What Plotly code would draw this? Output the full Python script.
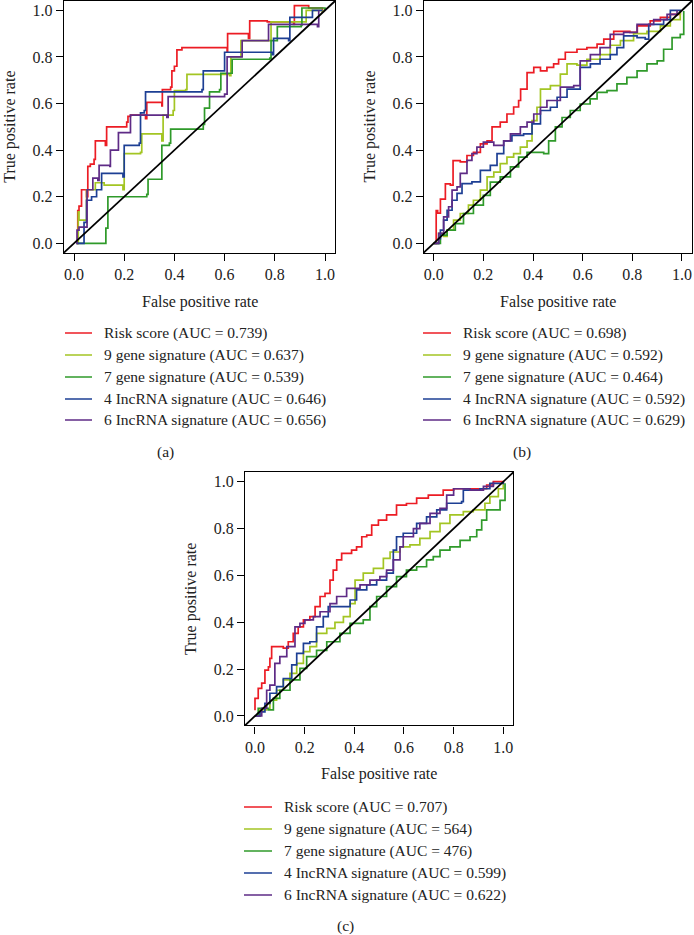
import plotly.graph_objects as go

W, H = 694, 935
FONT = "Liberation Serif"

series_names = ["Risk score", "9 gene signature", "7 gene signature",
                "4 IncRNA signature", "6 IncRNA signature"]
colors = ["#ec1c24", "#a3c523", "#2f9a2a", "#1d3f94", "#5e2b86"]

auc_a = ["0.739", "0.637", "0.539", "0.646", "0.656"]
auc_b = ["0.698", "0.592", "0.464", "0.592", "0.629"]
auc_c = ["0.707", "564", "476", "0.599", "0.622"]

tick_vals = [0.0, 0.2, 0.4, 0.6, 0.8, 1.0]
tick_text = ["0.0", "0.2", "0.4", "0.6", "0.8", "1.0"]

# ---------------- Panel (a) ----------------
a_risk_x = [0.01, 0.015, 0.02, 0.03, 0.05, 0.055, 0.065, 0.08, 0.085, 0.125, 0.13, 0.21, 0.215, 0.225, 0.285, 0.29, 0.35, 0.352, 0.385, 0.39, 0.40, 0.41, 0.43, 0.61, 0.612, 0.695, 0.70, 0.77, 0.875, 0.878, 0.935, 0.99]
a_risk_y = [0.0, 0.14, 0.16, 0.23, 0.20, 0.33, 0.34, 0.36, 0.44, 0.42, 0.50, 0.52, 0.545, 0.55, 0.535, 0.605, 0.59, 0.66, 0.67, 0.74, 0.76, 0.83, 0.84, 0.82, 0.90, 0.88, 0.955, 0.95, 0.94, 1.02, 1.01, 0.99]
a_g9_x = [0.015, 0.017, 0.02, 0.048, 0.05, 0.085, 0.12, 0.195, 0.20, 0.265, 0.27, 0.35, 0.355, 0.395, 0.40, 0.445, 0.45, 0.62, 0.625, 0.66, 0.665, 0.78, 0.785, 0.92, 0.925, 0.99]
a_g9_y = [0.0, 0.135, 0.10, 0.10, 0.23, 0.26, 0.25, 0.23, 0.385, 0.39, 0.47, 0.44, 0.55, 0.57, 0.655, 0.66, 0.725, 0.72, 0.80, 0.80, 0.87, 0.87, 0.95, 0.95, 1.0, 0.99]
a_g7_x = [0.01, 0.125, 0.127, 0.135, 0.29, 0.295, 0.345, 0.35, 0.38, 0.385, 0.515, 0.52, 0.54, 0.58, 0.585, 0.63, 0.78, 0.785, 0.81, 0.905, 0.908, 1.0]
a_g7_y = [0.0, 0.0, 0.065, 0.20, 0.21, 0.275, 0.275, 0.42, 0.43, 0.49, 0.51, 0.58, 0.65, 0.66, 0.73, 0.79, 0.795, 0.87, 0.93, 0.935, 1.01, 1.0]
a_l4_x = [0.01, 0.037, 0.04, 0.05, 0.07, 0.09, 0.11, 0.195, 0.20, 0.26, 0.265, 0.28, 0.285, 0.51, 0.515, 0.59, 0.60, 0.79, 0.795, 0.855, 0.86, 0.945, 0.95, 0.99]
a_l4_y = [0.0, 0.0, 0.09, 0.185, 0.20, 0.23, 0.30, 0.285, 0.42, 0.43, 0.56, 0.57, 0.65, 0.66, 0.74, 0.74, 0.82, 0.81, 0.88, 0.87, 0.97, 0.97, 1.0, 1.0]
a_l6_x = [0.01, 0.012, 0.02, 0.05, 0.052, 0.075, 0.095, 0.10, 0.143, 0.145, 0.17, 0.177, 0.22, 0.225, 0.37, 0.375, 0.6, 0.61, 0.665, 0.67, 0.77, 0.775, 0.97, 0.975]
a_l6_y = [0.0, 0.057, 0.07, 0.07, 0.23, 0.28, 0.27, 0.335, 0.33, 0.40, 0.40, 0.475, 0.475, 0.55, 0.54, 0.63, 0.64, 0.80, 0.80, 0.87, 0.87, 0.94, 0.93, 1.0]

# ---------------- Panel (b) ----------------
b_risk_x = [0.0, 0.01, 0.016, 0.027, 0.047, 0.067, 0.078, 0.107, 0.134, 0.16, 0.188, 0.215, 0.235, 0.268, 0.295, 0.322, 0.342, 0.35, 0.376, 0.403, 0.43, 0.456, 0.483, 0.503, 0.53, 0.577, 0.617, 0.658, 0.685, 0.725, 0.79, 0.82, 0.872, 0.913, 0.953, 0.993]
b_risk_y = [0.0, 0.14, 0.13, 0.19, 0.255, 0.25, 0.355, 0.35, 0.377, 0.39, 0.427, 0.44, 0.50, 0.52, 0.555, 0.585, 0.613, 0.662, 0.733, 0.755, 0.74, 0.755, 0.77, 0.79, 0.82, 0.833, 0.84, 0.855, 0.876, 0.91, 0.905, 0.933, 0.955, 0.97, 0.983, 0.997]
b_g9_x = [0.0, 0.02, 0.04, 0.054, 0.08, 0.107, 0.14, 0.16, 0.188, 0.215, 0.242, 0.268, 0.295, 0.322, 0.349, 0.376, 0.396, 0.416, 0.43, 0.47, 0.51, 0.537, 0.577, 0.617, 0.67, 0.711, 0.752, 0.805, 0.859, 0.913, 0.953, 0.993]
b_g9_y = [0.0, 0.043, 0.03, 0.057, 0.10, 0.128, 0.164, 0.185, 0.228, 0.285, 0.306, 0.342, 0.37, 0.385, 0.413, 0.44, 0.527, 0.584, 0.662, 0.677, 0.726, 0.77, 0.765, 0.79, 0.81, 0.85, 0.87, 0.90, 0.91, 0.933, 0.96, 0.997]
b_g7_x = [0.0, 0.027, 0.054, 0.087, 0.12, 0.16, 0.2, 0.228, 0.268, 0.309, 0.342, 0.376, 0.416, 0.443, 0.463, 0.49, 0.517, 0.55, 0.59, 0.63, 0.658, 0.698, 0.738, 0.778, 0.819, 0.859, 0.9, 0.926, 0.96, 0.993, 1.007]
b_g7_y = [0.0, 0.035, 0.057, 0.085, 0.128, 0.164, 0.206, 0.263, 0.285, 0.328, 0.37, 0.39, 0.39, 0.385, 0.44, 0.50, 0.54, 0.57, 0.598, 0.62, 0.648, 0.655, 0.684, 0.712, 0.74, 0.77, 0.783, 0.833, 0.883, 0.897, 0.997]
b_l4_x = [0.0, 0.02, 0.027, 0.04, 0.054, 0.074, 0.094, 0.114, 0.154, 0.188, 0.228, 0.255, 0.282, 0.315, 0.362, 0.396, 0.43, 0.47, 0.497, 0.537, 0.577, 0.59, 0.631, 0.67, 0.711, 0.738, 0.765, 0.819, 0.852, 0.866, 0.926, 0.953, 0.993]
b_l4_y = [0.0, 0.02, 0.057, 0.10, 0.142, 0.185, 0.214, 0.256, 0.264, 0.313, 0.335, 0.385, 0.44, 0.463, 0.47, 0.513, 0.57, 0.584, 0.627, 0.662, 0.662, 0.755, 0.77, 0.79, 0.81, 0.84, 0.89, 0.883, 0.876, 0.94, 0.96, 1.0, 0.997]
b_l6_x = [0.0, 0.02, 0.04, 0.06, 0.074, 0.094, 0.107, 0.134, 0.154, 0.174, 0.2, 0.242, 0.282, 0.309, 0.349, 0.376, 0.403, 0.43, 0.456, 0.51, 0.564, 0.59, 0.631, 0.67, 0.711, 0.765, 0.819, 0.886, 0.94, 0.98]
b_l6_y = [0.0, 0.043, 0.114, 0.157, 0.228, 0.242, 0.30, 0.356, 0.385, 0.413, 0.434, 0.42, 0.44, 0.47, 0.50, 0.52, 0.555, 0.584, 0.613, 0.67, 0.677, 0.783, 0.81, 0.84, 0.897, 0.905, 0.94, 0.96, 0.983, 1.0]

# ---------------- Panel (c) ----------------
c_risk_x = [0.0, 0.0, 0.013, 0.027, 0.04, 0.054, 0.06, 0.067, 0.114, 0.134, 0.154, 0.174, 0.195, 0.221, 0.242, 0.262, 0.282, 0.302, 0.315, 0.329, 0.349, 0.389, 0.409, 0.43, 0.45, 0.47, 0.497, 0.53, 0.57, 0.61, 0.651, 0.698, 0.758, 0.80, 0.866, 0.933, 0.96, 1.0]
c_risk_y = [0.025, 0.075, 0.118, 0.14, 0.196, 0.21, 0.246, 0.296, 0.29, 0.317, 0.353, 0.38, 0.41, 0.424, 0.467, 0.51, 0.523, 0.58, 0.623, 0.666, 0.694, 0.708, 0.722, 0.765, 0.772, 0.815, 0.836, 0.858, 0.90, 0.907, 0.93, 0.943, 0.964, 0.97, 0.97, 0.986, 1.0, 0.993]
c_g9_x = [0.0, 0.02, 0.047, 0.06, 0.087, 0.114, 0.141, 0.168, 0.195, 0.221, 0.248, 0.289, 0.322, 0.356, 0.383, 0.403, 0.436, 0.477, 0.517, 0.544, 0.584, 0.624, 0.664, 0.705, 0.745, 0.785, 0.839, 0.879, 0.926, 0.946, 0.98, 1.0]
c_g9_y = [0.0, 0.026, 0.03, 0.068, 0.11, 0.154, 0.182, 0.225, 0.275, 0.296, 0.353, 0.374, 0.40, 0.424, 0.48, 0.58, 0.61, 0.63, 0.673, 0.70, 0.722, 0.73, 0.758, 0.787, 0.822, 0.858, 0.872, 0.88, 0.908, 0.936, 0.97, 0.993]
c_g7_x = [0.0, 0.013, 0.054, 0.074, 0.10, 0.141, 0.181, 0.208, 0.248, 0.289, 0.342, 0.383, 0.436, 0.463, 0.49, 0.53, 0.57, 0.61, 0.651, 0.691, 0.718, 0.745, 0.785, 0.826, 0.866, 0.893, 0.913, 0.933, 0.966, 0.987, 1.007]
c_g7_y = [0.0, 0.033, 0.026, 0.075, 0.11, 0.154, 0.203, 0.253, 0.28, 0.317, 0.353, 0.395, 0.41, 0.467, 0.51, 0.552, 0.595, 0.623, 0.637, 0.666, 0.68, 0.708, 0.722, 0.75, 0.765, 0.794, 0.836, 0.88, 0.88, 0.92, 0.993]
c_l4_x = [0.0, 0.02, 0.04, 0.06, 0.087, 0.114, 0.148, 0.168, 0.195, 0.221, 0.248, 0.275, 0.295, 0.342, 0.383, 0.409, 0.45, 0.49, 0.53, 0.557, 0.57, 0.597, 0.651, 0.691, 0.732, 0.772, 0.832, 0.839, 0.906, 0.946, 1.0]
c_l4_y = [0.0, 0.018, 0.054, 0.097, 0.125, 0.16, 0.218, 0.267, 0.31, 0.317, 0.38, 0.424, 0.467, 0.467, 0.495, 0.538, 0.56, 0.58, 0.61, 0.708, 0.765, 0.78, 0.822, 0.85, 0.88, 0.908, 0.915, 0.964, 0.97, 0.993, 1.0]
c_l6_x = [0.0, 0.027, 0.047, 0.06, 0.08, 0.10, 0.128, 0.161, 0.181, 0.201, 0.235, 0.262, 0.302, 0.329, 0.369, 0.423, 0.463, 0.503, 0.53, 0.557, 0.584, 0.597, 0.638, 0.664, 0.705, 0.745, 0.772, 0.80, 0.866, 0.92, 0.96]
c_l6_y = [0.0, 0.033, 0.11, 0.132, 0.225, 0.253, 0.296, 0.38, 0.395, 0.41, 0.424, 0.445, 0.48, 0.51, 0.545, 0.56, 0.58, 0.595, 0.623, 0.666, 0.722, 0.765, 0.80, 0.822, 0.865, 0.886, 0.943, 0.97, 0.964, 0.98, 1.0]

panels = [
    dict(label="(a)", auc=auc_a,
         xs=[a_risk_x, a_g9_x, a_g7_x, a_l4_x, a_l6_x],
         ys=[a_risk_y, a_g9_y, a_g7_y, a_l4_y, a_l6_y],
         px0=74.0, px1=325.0, py1=9.3, py0=243.3,
         leg_line=(65, 92), leg_text=102, leg_rows=[333, 355, 377, 399, 420],
         lab=(165, 452)),
    dict(label="(b)", auc=auc_b,
         xs=[b_risk_x, b_g9_x, b_g7_x, b_l4_x, b_l6_x],
         ys=[b_risk_y, b_g9_y, b_g7_y, b_l4_y, b_l6_y],
         px0=433.7, px1=682.0, py1=9.3, py0=243.3,
         leg_line=(423, 451), leg_text=461, leg_rows=[333, 355, 377, 399, 420],
         lab=(522, 452)),
    dict(label="(c)", auc=auc_c,
         xs=[c_risk_x, c_g9_x, c_g7_x, c_l4_x, c_l6_x],
         ys=[c_risk_y, c_g9_y, c_g7_y, c_l4_y, c_l6_y],
         px0=255.0, px1=503.3, py1=481.7, py0=716.0,
         leg_line=(244, 272), leg_text=282, leg_rows=[807, 829, 851, 873, 895],
         lab=(345, 926)),
]

fig = go.Figure()
layout = dict(width=W, height=H, margin=dict(l=0, r=0, t=0, b=0),
              paper_bgcolor="white", plot_bgcolor="white",
              showlegend=False, font=dict(family=FONT, size=16, color="#222"))
annotations = []
shapes = []
RLO, RHI = -0.04, 1.04
FS_TICK, FS_TITLE, FS_LEG = 16, 16, 15.5


def clamp(v):
    return max(0.0, min(1.0, v))


for i, p in enumerate(panels):
    sfx = "" if i == 0 else str(i + 1)
    xs_px = p["px1"] - p["px0"]
    ys_px = p["py0"] - p["py1"]
    left = p["px0"] + RLO * xs_px
    right = min(p["px0"] + RHI * xs_px, W - 1.0)
    top = max(p["py1"] - (RHI - 1) * ys_px, 1.0)
    bottom = p["py0"] - RLO * ys_px
    axis_common = dict(range=[RLO, RHI], showgrid=False, zeroline=False,
                       showline=True, mirror=True, linecolor="black", linewidth=1.3,
                       ticks="outside", ticklen=7, tickwidth=1.3, tickcolor="black",
                       tickvals=tick_vals, ticktext=tick_text,
                       ticklabeloverflow="allow",
                       tickfont=dict(family=FONT, size=FS_TICK, color="#222"))
    layout["xaxis" + sfx] = dict(axis_common, domain=[clamp(left / W), clamp(right / W)],
                                 anchor="y" + sfx)
    layout["yaxis" + sfx] = dict(axis_common, domain=[clamp(1 - bottom / H), clamp(1 - top / H)],
                                 anchor="x" + sfx)
    for k in range(5):
        fig.add_trace(go.Scatter(x=p["xs"][k], y=p["ys"][k], mode="lines",
                                 line=dict(color=colors[k], width=1.7, shape="hv"),
                                 xaxis="x" + sfx, yaxis="y" + sfx,
                                 name=series_names[k]))
    # diagonal reference
    shapes.append(dict(type="line", xref="x%s domain" % sfx, yref="y%s domain" % sfx,
                       x0=0, y0=0, x1=1, y1=1, line=dict(color="black", width=1.8)))
    cx = (left + right) / 2
    cy = (top + bottom) / 2
    annotations.append(dict(text="False positive rate", xref="paper", yref="paper",
                            x=cx / W, y=1 - (bottom + 49) / H, showarrow=False,
                            font=dict(size=FS_TITLE), xanchor="center", yanchor="middle"))
    annotations.append(dict(text="True positive rate", xref="paper", yref="paper",
                            x=(left - 54) / W, y=1 - cy / H, showarrow=False, textangle=-90,
                            font=dict(size=FS_TITLE), xanchor="center", yanchor="middle"))
    # legend
    for k in range(5):
        yy = 1 - p["leg_rows"][k] / H
        shapes.append(dict(type="line", xref="paper", yref="paper",
                           x0=p["leg_line"][0] / W, x1=p["leg_line"][1] / W, y0=yy, y1=yy,
                           line=dict(color=colors[k], width=1.5)))
        annotations.append(dict(text="%s (AUC = %s)" % (series_names[k], p["auc"][k]),
                                xref="paper", yref="paper", x=p["leg_text"] / W, y=yy,
                                xanchor="left", yanchor="middle", showarrow=False,
                                font=dict(size=FS_LEG)))
    annotations.append(dict(text=p["label"], xref="paper", yref="paper",
                            x=p["lab"][0] / W, y=1 - p["lab"][1] / H, showarrow=False,
                            xanchor="center", yanchor="middle", font=dict(size=FS_LEG)))

layout["annotations"] = annotations
layout["shapes"] = shapes
fig.update_layout(**layout)
fig.write_html("out.html", config={"displayModeBar": False},
               post_script="document.body.style.margin='0';document.body.style.overflow='hidden';")
